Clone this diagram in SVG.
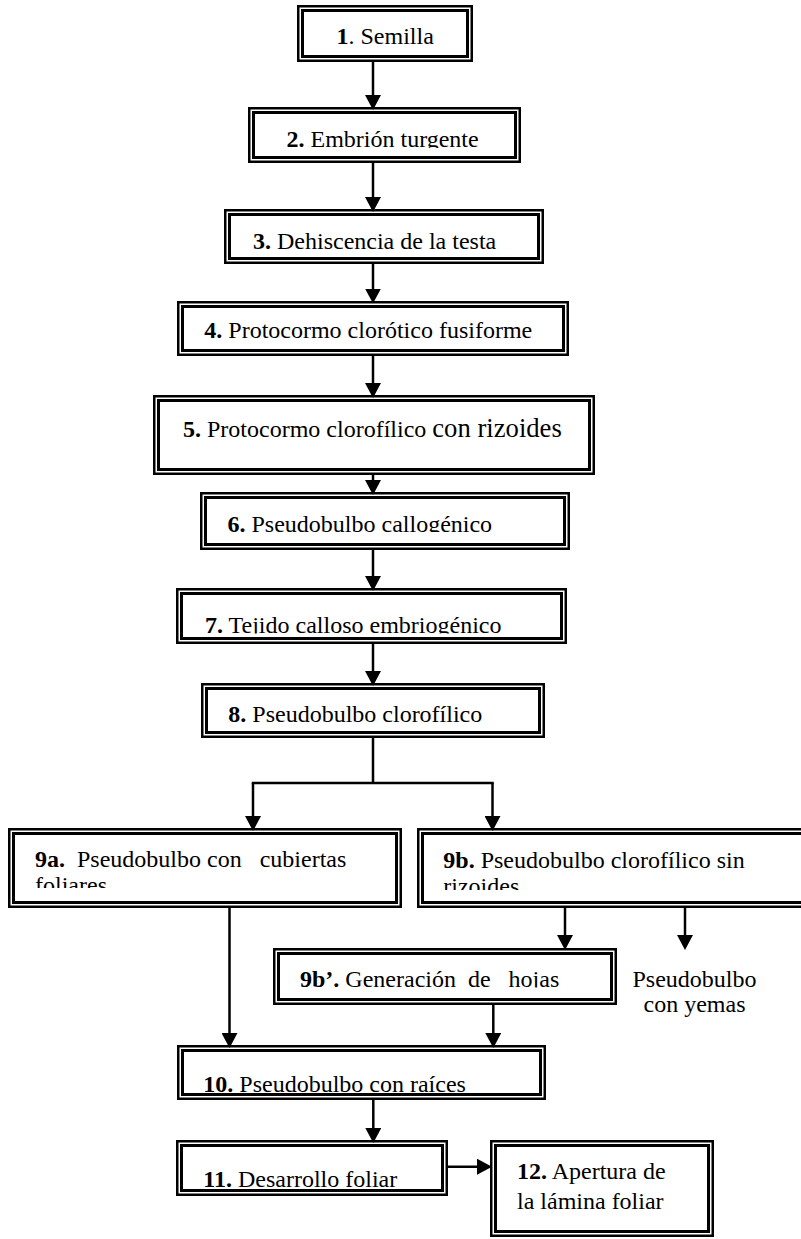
<svg xmlns="http://www.w3.org/2000/svg" width="801" height="1239" viewBox="0 0 801 1239">
<style>
.o{fill:none;stroke:#000;stroke-width:2.5}
.i{fill:none;stroke:#000;stroke-width:3}
.c{fill:none;stroke:#000;stroke-width:2.5}
</style>
<defs>
<marker id="ah" viewBox="0 0 15 16" refX="7" refY="8" markerWidth="15" markerHeight="16" markerUnits="userSpaceOnUse" orient="auto"><path d="M0,0L15,8L0,16z" fill="#000"/></marker>
<clipPath id="k2" clipPathUnits="userSpaceOnUse"><rect x="0" y="0" width="801" height="148"/></clipPath>
<clipPath id="k3" clipPathUnits="userSpaceOnUse"><rect x="0" y="0" width="801" height="249.5"/></clipPath>
<clipPath id="k4" clipPathUnits="userSpaceOnUse"><rect x="0" y="0" width="801" height="339"/></clipPath>
<clipPath id="k6" clipPathUnits="userSpaceOnUse"><rect x="0" y="0" width="801" height="532"/></clipPath>
<clipPath id="k7" clipPathUnits="userSpaceOnUse"><rect x="0" y="0" width="801" height="633.5"/></clipPath>
<clipPath id="k8" clipPathUnits="userSpaceOnUse"><rect x="0" y="0" width="801" height="722"/></clipPath>
<clipPath id="k9a" clipPathUnits="userSpaceOnUse"><rect x="0" y="0" width="801" height="888"/></clipPath>
<clipPath id="k9b" clipPathUnits="userSpaceOnUse"><rect x="0" y="0" width="801" height="890"/></clipPath>
<clipPath id="k9p" clipPathUnits="userSpaceOnUse"><rect x="0" y="0" width="801" height="987.5"/></clipPath>
<clipPath id="k10" clipPathUnits="userSpaceOnUse"><rect x="0" y="0" width="801" height="1092"/></clipPath>
<clipPath id="k11" clipPathUnits="userSpaceOnUse"><rect x="0" y="0" width="801" height="1187"/></clipPath>
</defs>
<rect width="801" height="1239" fill="#fff"/>

<g font-family="Liberation Serif" font-size="24" fill="#000">
<g id="n1">
<rect class="o" x="298.25" y="6.25" width="173.5" height="54.5"/>
<rect class="i" x="302.5" y="10.5" width="165" height="46"/>
<text x="336.5" y="44.3"><tspan font-weight="bold">1</tspan>. Semilla</text>
</g>
<g id="n2">
<rect class="o" x="249.25" y="108.25" width="270.5" height="53.5"/>
<rect class="i" x="253.5" y="112.5" width="262" height="45"/>
<text x="286.5" y="147" clip-path="url(#k2)"><tspan font-weight="bold">2.</tspan> Embrión turgente</text>
</g>
<g id="n3">
<rect class="o" x="225.25" y="210.25" width="317.5" height="52.5"/>
<rect class="i" x="229.5" y="214.5" width="309" height="44"/>
<text x="253" y="249" clip-path="url(#k3)"><tspan font-weight="bold">3.</tspan> Dehiscencia de la testa</text>
</g>
<g id="n4">
<rect class="o" x="178.25" y="302.25" width="389.5" height="52.5"/>
<rect class="i" x="182.5" y="306.5" width="381" height="44"/>
<text x="204.3" y="338.3" clip-path="url(#k4)"><tspan font-weight="bold">4.</tspan> Protocormo clorótico fusiforme</text>
</g>
<g id="n5">
<rect class="o" x="154.25" y="396.25" width="439.5" height="77.5"/>
<rect class="i" x="158.5" y="400.5" width="431" height="69"/>
<text x="183" y="436.7"><tspan font-weight="bold">5.</tspan> Protocormo clorofílico <tspan font-size="26.67">con rizoides</tspan></text>
</g>
<g id="n6">
<rect class="o" x="201.25" y="493.25" width="367.5" height="55.5"/>
<rect class="i" x="205.5" y="497.5" width="359" height="47"/>
<text x="227.5" y="531.5" clip-path="url(#k6)"><tspan font-weight="bold">6.</tspan> Pseudobulbo callogénico</text>
</g>
<g id="n7">
<rect class="o" x="177.25" y="589.25" width="388.5" height="53.5"/>
<rect class="i" x="181.5" y="593.5" width="380" height="45"/>
<text x="205" y="633" clip-path="url(#k7)"><tspan font-weight="bold">7.</tspan> Tejido calloso embriogénico</text>
</g>
<g id="n8">
<rect class="o" x="202.25" y="684.25" width="341.5" height="52.5"/>
<rect class="i" x="206.5" y="688.5" width="333" height="44"/>
<text x="228.3" y="721.7" clip-path="url(#k8)"><tspan font-weight="bold">8.</tspan> Pseudobulbo clorofílico</text>
</g>
<g id="n9a">
<rect class="o" x="9.25" y="829.25" width="391.5" height="77.5"/>
<rect class="i" x="13.5" y="833.5" width="383" height="69"/>
<text x="35" y="866.7" clip-path="url(#k9a)" xml:space="preserve"><tspan font-weight="bold">9a.</tspan>  Pseudobulbo con   cubiertas<tspan x="35" y="892.5">foliares</tspan></text>
</g>
<g id="n9b">
<rect class="o" x="418.25" y="829.25" width="397.5" height="77.5"/>
<rect class="i" x="422.5" y="833.5" width="389" height="69"/>
<text x="443.3" y="868.3" clip-path="url(#k9b)"><tspan font-weight="bold">9b.</tspan> Pseudobulbo clorofílico sin<tspan x="443.3" y="894">rizoides</tspan></text>
</g>
<g id="n9bp">
<rect class="o" x="274.25" y="949.25" width="341.5" height="54.5"/>
<rect class="i" x="278.5" y="953.5" width="333" height="46"/>
<text x="300" y="986.7" clip-path="url(#k9p)" xml:space="preserve"><tspan font-weight="bold">9b’.</tspan> Generación  de   hojas</text>
</g>
<g id="n9c">
<text x="694.5" y="986.7" text-anchor="middle">Pseudobulbo</text>
<text x="694.5" y="1011.7" text-anchor="middle">con yemas</text>
</g>
<g id="n10">
<rect class="o" x="178.25" y="1046.25" width="366.5" height="52.5"/>
<rect class="i" x="182.5" y="1050.5" width="358" height="44"/>
<text x="203.3" y="1091.7" clip-path="url(#k10)"><tspan font-weight="bold">10.</tspan> Pseudobulbo con raíces</text>
</g>
<g id="n11">
<rect class="o" x="177.25" y="1141.25" width="269.5" height="53.5"/>
<rect class="i" x="181.5" y="1145.5" width="261" height="45"/>
<text x="203.3" y="1186.7" clip-path="url(#k11)"><tspan font-weight="bold">11.</tspan> Desarrollo foliar</text>
</g>
<g id="n12">
<rect class="o" x="491.25" y="1141.25" width="221.5" height="94.5"/>
<rect class="i" x="495.5" y="1145.5" width="213" height="86"/>
<text x="517" y="1179"><tspan font-weight="bold">12.</tspan> Apertura de<tspan x="517" y="1209">la lámina foliar</tspan></text>
</g>
</g>

<g id="connectors">
<path class="c" d="M373,62V102" marker-end="url(#ah)"/>
<path class="c" d="M373,163V204" marker-end="url(#ah)"/>
<path class="c" d="M373,264V295.5" marker-end="url(#ah)"/>
<path class="c" d="M373,356V390" marker-end="url(#ah)"/>
<path class="c" d="M373,475V487" marker-end="url(#ah)"/>
<path class="c" d="M373,550V583" marker-end="url(#ah)"/>
<path class="c" d="M373,644V678" marker-end="url(#ah)"/>
<path class="c" d="M373,738V783M251.75,783H493.75"/>
<path class="c" d="M253,783V823" marker-end="url(#ah)"/>
<path class="c" d="M492.5,783V823" marker-end="url(#ah)"/>
<path class="c" d="M229.5,908V1040" marker-end="url(#ah)"/>
<path class="c" d="M565,908V942" marker-end="url(#ah)"/>
<path class="c" d="M685,908V942" marker-end="url(#ah)"/>
<path class="c" d="M493.3,1005V1040" marker-end="url(#ah)"/>
<path class="c" d="M373.3,1100V1135" marker-end="url(#ah)"/>
<path class="c" d="M448,1166.7H484" marker-end="url(#ah)"/>
</g>
</svg>
